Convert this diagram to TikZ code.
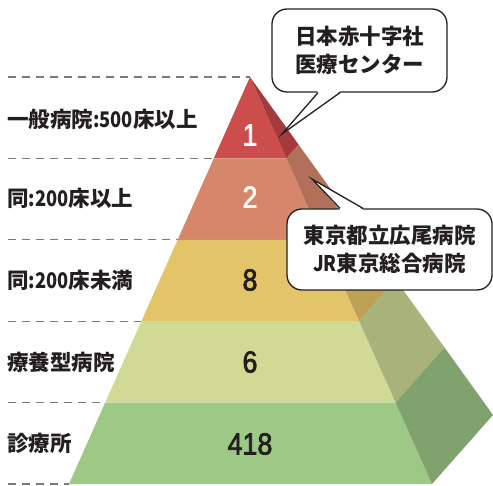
\documentclass[tikz,border=0pt]{standalone}
\usepackage{fontspec}
\setmainfont{Noto Sans CJK JP}
\newfontfamily\condf[FakeStretch=0.85]{Noto Sans CJK JP}
\newfontfamily\numf[FakeStretch=0.88,FakeBold=2.2]{Liberation Sans}
\usetikzlibrary{calc}
\definecolor{ink}{HTML}{231F20}
\definecolor{guidegray}{HTML}{7A7A7A}
\definecolor{cAf}{RGB}{204,78,76}
\definecolor{cAs}{RGB}{165,58,60}
\definecolor{cBf}{RGB}{214,134,106}
\definecolor{cBs}{RGB}{178,112,90}
\definecolor{cCf}{RGB}{228,196,104}
\definecolor{cCs}{RGB}{190,161,84}
\definecolor{cDf}{RGB}{208,218,148}
\definecolor{cDs}{RGB}{168,178,122}
\definecolor{cEf}{RGB}{158,200,134}
\definecolor{cEs}{RGB}{127,162,111}
\begin{document}
\begin{tikzpicture}[x=1pt,y=-1pt]
\tikzset{
  lbl/.style={anchor=west, inner sep=0pt, text=ink, font=\fontsize{21.5}{24}\selectfont\bfseries},
  num/.style={inner sep=0pt, font=\numf\fontsize{30.5}{30}\selectfont},
  guide/.style={draw=guidegray, line width=1.2pt, dash pattern=on 8pt off 6pt},
  callout/.style={draw=ink, line width=1.3pt, fill=white, rounded corners=15pt, inner sep=0pt, align=center, text=ink, font=\fontsize{21.5}{28}\selectfont\bfseries},
  tailfill/.style={fill=white, draw=none},
  tailline/.style={draw=ink, line width=1.3pt, line join=miter}
}
\useasboundingbox (0,0) rectangle (493,486);
% pyramid corner points
\coordinate (A) at (250,77);
\coordinate (L1) at (213.8,158.4); \coordinate (R1) at (286.4,158.4); \coordinate (B1) at (298.6,144.6);
\coordinate (L2) at (177.6,239.8); \coordinate (R2) at (322.8,239.8); \coordinate (B2) at (347.2,212.2);
\coordinate (L3) at (141.4,321.2); \coordinate (R3) at (359.2,321.2); \coordinate (B3) at (395.8,279.8);
\coordinate (L4) at (105.2,402.6); \coordinate (R4) at (395.6,402.6); \coordinate (B4) at (444.4,347.4);
\coordinate (L5) at (69,484);      \coordinate (R5) at (432,484);      \coordinate (B5) at (493,415);
% guide line starts
\coordinate (g0) at (8,77);
\coordinate (g1) at (8,158.4);
\coordinate (g2) at (8,239.8);
\coordinate (g3) at (8,321.2);
\coordinate (g4) at (8,402.6);
\coordinate (g5) at (8,484);
\draw[guide] (g0) -- (A);
\draw[guide] (g1) -- (L1);
\draw[guide] (g2) -- (L2);
\draw[guide] (g3) -- (L3);
\draw[guide] (g4) -- (L4);
\draw[guide] (g5) -- (L5);
% front faces
\fill[cAf] (A) -- (R1) -- (L1) -- cycle;
\fill[cBf] (L1) -- (R1) -- (R2) -- (L2) -- cycle;
\fill[cCf] (L2) -- (R2) -- (R3) -- (L3) -- cycle;
\fill[cDf] (L3) -- (R3) -- (R4) -- (L4) -- cycle;
\fill[cEf] (L4) -- (R4) -- (R5) -- (L5) -- cycle;
% side faces
\fill[cAs] (A) -- (B1) -- (R1) -- cycle;
\fill[cBs] (R1) -- (B1) -- (B2) -- (R2) -- cycle;
\fill[cCs] (R2) -- (B2) -- (B3) -- (R3) -- cycle;
\fill[cDs] (R3) -- (B3) -- (B4) -- (R4) -- cycle;
\fill[cEs] (R4) -- (B4) -- (B5) -- (R5) -- cycle;
% numbers
\node[num, text=white] (n1) at (250,135) {1};
\node[num, text=white] (n2) at (250,197) {2};
\node[num, text=ink] (n3) at (250,280) {8};
\node[num, text=ink] (n4) at (250,362) {6};
\node[num, text=ink] (n5) at (250,444) {418};
% labels
\node[lbl] (l1) at (7,119) {一般病院{\condf :500}床以上};
\node[lbl] (l2) at (7,198) {同{\condf :200}床以上};
\node[lbl] (l3) at (7,280) {同{\condf :200}床未満};
\node[lbl] (l4) at (7,362) {療養型病院};
\node[lbl] (l5) at (7,443) {診療所};
% callout 1
\node[callout, minimum width=175pt, minimum height=83pt] (c1) at (359.5,50.5) {日本赤十字社\\医療センター};
\coordinate (t1) at (282,134);
\fill[tailfill] ($(c1.south)+(-41.5,-1.5)$) -- (t1) -- ($(c1.south)+(-19.5,-1.5)$) -- cycle;
\draw[tailline] ($(c1.south)+(-41.5,0)$) -- (t1) -- ($(c1.south)+(-19.5,0)$);
% callout 2
\node[callout, minimum width=205pt, minimum height=81pt] (c2) at (389.5,249.5) {東京都立広尾病院\\{\condf JR}東京総合病院};
\coordinate (t2) at (312,179);
\fill[tailfill] ($(c2.north)+(-49.5,1.5)$) -- (t2) -- ($(c2.north)+(-26.5,1.5)$) -- cycle;
\draw[tailline] ($(c2.north)+(-49.5,0)$) -- (t2) -- ($(c2.north)+(-26.5,0)$);
\end{tikzpicture}
\end{document}
